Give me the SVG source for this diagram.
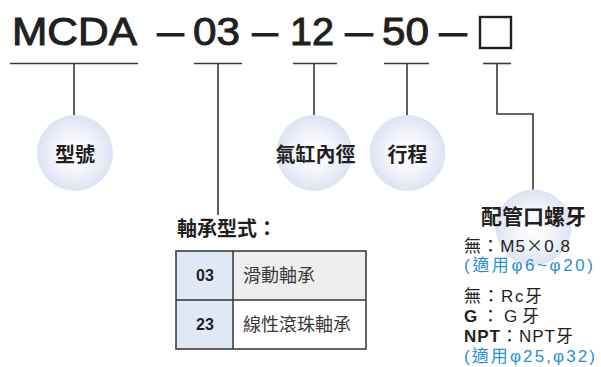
<svg xmlns="http://www.w3.org/2000/svg" width="601" height="367" viewBox="0 0 601 367">
<style>
.t{font-family:"Liberation Sans","Noto Sans CJK TC",sans-serif;fill:#231f20}
.big{font-size:39px;stroke:#231f20;stroke-width:1}
.lbl{font-family:"Noto Sans CJK TC","Noto Sans CJK SC",sans-serif;font-weight:bold;font-size:20px;fill:#231f20;text-anchor:middle}
.ln{stroke:#3d3536;stroke-width:1.6;fill:none}
.cell{font-family:"Noto Sans CJK TC",sans-serif;font-size:18px;fill:#3a3a3a}
.code{font-family:"Liberation Sans",sans-serif;font-size:16px;font-weight:bold;fill:#231f20;text-anchor:middle}
.note{font-family:"Liberation Sans","Noto Sans CJK TC",sans-serif;font-size:17px;fill:#231f20}
.blue{fill:#2b8fd4}
</style>
<defs>
<radialGradient id="g" cx="0.5" cy="0.5" r="0.5">
<stop offset="0" stop-color="#ffffff"/>
<stop offset="0.45" stop-color="#f6f7fc"/>
<stop offset="1" stop-color="#dde2f3"/>
</radialGradient>
</defs>
<g id="title">
<text class="t big" x="12" y="45" textLength="125" lengthAdjust="spacingAndGlyphs">MCDA</text>
<text class="t big" x="157" y="45" textLength="27" lengthAdjust="spacingAndGlyphs">—</text>
<text class="t big" x="193" y="45" textLength="47" lengthAdjust="spacingAndGlyphs">03</text>
<text class="t big" x="252" y="45" textLength="26" lengthAdjust="spacingAndGlyphs">—</text>
<text class="t big" x="290" y="45" textLength="44" lengthAdjust="spacingAndGlyphs">12</text>
<text class="t big" x="345" y="45" textLength="28" lengthAdjust="spacingAndGlyphs">—</text>
<text class="t big" x="382" y="45" textLength="47" lengthAdjust="spacingAndGlyphs">50</text>
<text class="t big" x="439" y="45" textLength="28" lengthAdjust="spacingAndGlyphs">—</text>
<rect x="480" y="17" width="31" height="31" fill="none" stroke="#231f20" stroke-width="2.4"/>
</g>
<g id="connectors" class="ln">
<line x1="10" y1="63.5" x2="138" y2="63.5"/>
<line x1="194" y1="63.5" x2="242" y2="63.5"/>
<line x1="293" y1="63.5" x2="337" y2="63.5"/>
<line x1="384" y1="63.5" x2="429" y2="63.5"/>
<line x1="483" y1="63.5" x2="511" y2="63.5"/>
<line x1="74" y1="63.5" x2="74" y2="116"/>
<line x1="218" y1="63.5" x2="218" y2="215"/>
<line x1="314" y1="63.5" x2="314" y2="116"/>
<line x1="407" y1="63.5" x2="407" y2="116"/>
<polyline points="497,63.5 497,114 533,114 533,190"/>
</g>
<g id="node-model">
<circle cx="75" cy="153" r="38" fill="url(#g)"/>
<text class="lbl" x="75" y="162">型號</text>
</g>
<g id="node-bore">
<circle cx="314.5" cy="153" r="38" fill="url(#g)"/>
<text class="lbl" x="315.5" y="162">氣缸內徑</text>
</g>
<g id="node-stroke">
<circle cx="407.5" cy="153" r="38" fill="url(#g)"/>
<text class="lbl" x="407.5" y="162">行程</text>
</g>
<g id="node-port">
<circle cx="533.5" cy="227.5" r="38" fill="url(#g)"/>
<text class="lbl" x="533.5" y="224" style="font-size:21px">配管口螺牙</text>
<text class="note" x="464" y="252" textLength="106">無：M5<tspan font-family="Noto Sans CJK TC">×</tspan>0.8</text>
<text class="note blue" x="464" y="271" textLength="129">(適用φ6~φ20)</text>
<text class="note" x="464" y="302" textLength="78">無：Rc牙</text>
<text class="note" x="464" y="322" textLength="75"><tspan font-weight="bold">G</tspan>：G牙</text>
<text class="note" x="464" y="342" textLength="109"><tspan font-weight="bold">NPT</tspan>：NPT牙</text>
<text class="note blue" x="464" y="362" textLength="131">(適用φ25,φ32)</text>
</g>
<g id="node-bearing">
<text class="lbl" x="177" y="236" style="text-anchor:start">軸承型式：</text>
<rect x="176" y="251" width="57" height="98" fill="#e1e8f5"/>
<rect x="233" y="251" width="133" height="49" fill="#eeeeee"/>
<rect x="233" y="300" width="133" height="49" fill="#ffffff"/>
<g fill="none" stroke="#333333" stroke-width="1.5">
<rect x="176" y="251" width="190" height="98"/>
<line x1="233" y1="251" x2="233" y2="349"/>
<line x1="176" y1="300" x2="366" y2="300"/>
</g>
<text class="code" x="205" y="281">03</text>
<text class="code" x="205" y="330">23</text>
<text class="cell" x="243" y="282">滑動軸承</text>
<text class="cell" x="243" y="331">線性滾珠軸承</text>
</g>
</svg>
